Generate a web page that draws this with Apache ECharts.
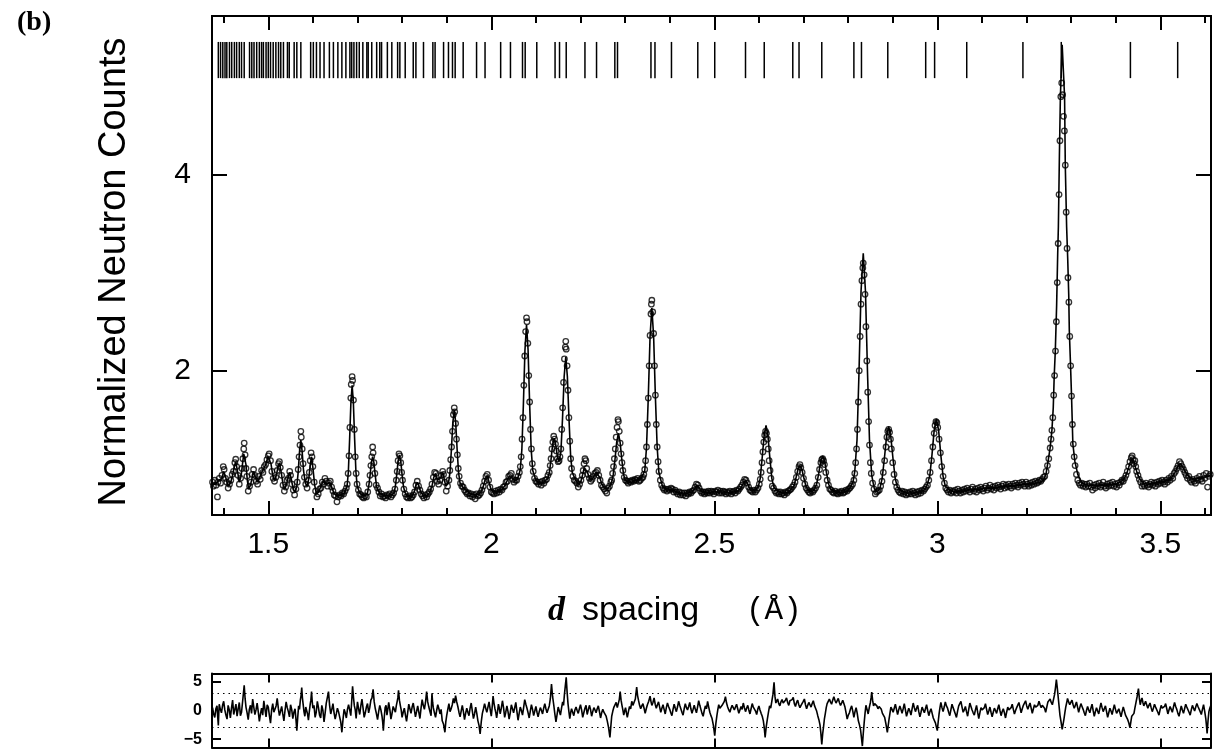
<!DOCTYPE html>
<html>
<head>
<meta charset="utf-8">
<script src="https://cdn.jsdelivr.net/npm/echarts@6/dist/echarts.min.js"></script>
<style>
html,body{margin:0;padding:0;background:#fff;}
#chart{width:1214px;height:750px;}
</style>
</head>
<body>
<div id="chart"></div>
<script>
// ---- axis ranges & ticks ----
const dRange = [1.3738, 3.6137];
const countsRange = [0.525, 5.625];
const diffRange = [-6.45, 6.45];
const majorTicks = [1.5, 2, 2.5, 3, 3.5];
const minorTicks = [1.4,1.5,1.6,1.7,1.8,1.9,2.0,2.1,2.2,2.3,2.4,2.5,2.6,2.7,2.8,2.9,3.0,3.1,3.2,3.3,3.4,3.5,3.6];
const countTicks = [2, 4];
const diffTicks = [-5, 5];
const diffLabels = [-5, 0, 5];
const diffGuides = [-3, 3];
const reflectionSpan = [4.99, 5.36];

// ---- reflection positions (d, Å) ----
const reflections = [1.388,1.393,1.398,1.403,1.407,1.413,1.418,1.424,1.429,1.435,1.440,1.446,1.458,1.463,1.468,1.474,1.480,1.485,1.489,1.495,1.500,1.505,1.511,1.517,1.523,1.528,1.534,1.543,1.547,1.558,1.564,1.573,1.595,1.601,1.608,1.616,1.625,1.637,1.646,1.656,1.665,1.674,1.683,1.687,1.692,1.698,1.704,1.712,1.721,1.724,1.732,1.743,1.750,1.754,1.767,1.777,1.790,1.795,1.807,1.825,1.831,1.848,1.869,1.874,1.893,1.904,1.913,1.919,1.937,1.967,1.986,2.021,2.043,2.070,2.076,2.102,2.143,2.153,2.168,2.210,2.236,2.277,2.283,2.358,2.367,2.404,2.463,2.501,2.570,2.612,2.676,2.690,2.741,2.813,2.830,2.889,2.974,2.994,3.066,3.192,3.278,3.433,3.539];

// ---- calculated profile [d, counts] ----
const calculated = [[1.374,0.84],[1.378,0.85],[1.382,0.84],[1.386,0.85],[1.389,0.88],[1.392,0.87],[1.396,0.90],[1.400,0.97],[1.404,0.92],[1.408,0.85],[1.411,0.82],[1.415,0.85],[1.419,0.91],[1.423,1.00],[1.427,1.07],[1.431,0.97],[1.435,0.86],[1.439,0.92],[1.442,1.04],[1.445,1.15],[1.447,1.17],[1.450,1.04],[1.453,0.88],[1.456,0.79],[1.460,0.83],[1.464,0.91],[1.467,0.97],[1.471,0.91],[1.475,0.86],[1.480,0.90],[1.485,0.96],[1.490,1.00],[1.495,1.05],[1.499,1.12],[1.502,1.14],[1.506,1.05],[1.510,0.93],[1.514,0.88],[1.518,0.93],[1.522,1.02],[1.525,1.06],[1.529,0.96],[1.533,0.84],[1.537,0.79],[1.541,0.84],[1.545,0.92],[1.548,0.96],[1.552,0.88],[1.556,0.79],[1.560,0.76],[1.564,0.82],[1.567,0.96],[1.570,1.17],[1.573,1.29],[1.576,1.17],[1.579,0.98],[1.583,0.85],[1.587,0.82],[1.591,0.90],[1.594,1.04],[1.597,1.12],[1.600,1.01],[1.604,0.83],[1.608,0.74],[1.613,0.76],[1.618,0.82],[1.623,0.87],[1.627,0.89],[1.632,0.84],[1.638,0.86],[1.643,0.80],[1.648,0.74],[1.654,0.72],[1.660,0.72],[1.666,0.74],[1.671,0.75],[1.6767,0.82],[1.6795,0.965],[1.6823,1.29],[1.6852,1.67],[1.688,1.85],[1.6908,1.67],[1.6937,1.29],[1.6965,0.965],[1.6993,0.82],[1.705,0.75],[1.711,0.73],[1.717,0.72],[1.722,0.74],[1.7253,0.82],[1.7282,0.93],[1.7311,1.06],[1.734,1.12],[1.7369,1.06],[1.7398,0.93],[1.7427,0.82],[1.7456,0.78],[1.750,0.75],[1.756,0.73],[1.763,0.72],[1.770,0.73],[1.777,0.73],[1.782,0.75],[1.785,0.82],[1.788,0.935],[1.791,1.075],[1.794,1.14],[1.797,1.075],[1.800,0.935],[1.803,0.82],[1.806,0.76],[1.811,0.72],[1.817,0.71],[1.823,0.72],[1.828,0.77],[1.831,0.83],[1.834,0.86],[1.837,0.83],[1.842,0.76],[1.848,0.72],[1.855,0.72],[1.861,0.75],[1.867,0.82],[1.871,0.91],[1.875,0.95],[1.879,0.88],[1.883,0.86],[1.887,0.91],[1.891,0.96],[1.895,0.88],[1.898,0.82],[1.9042,0.855],[1.9074,0.96],[1.9106,1.195],[1.9138,1.47],[1.917,1.60],[1.9202,1.47],[1.9234,1.195],[1.9266,0.96],[1.9298,0.855],[1.936,0.81],[1.943,0.78],[1.950,0.75],[1.958,0.74],[1.966,0.73],[1.973,0.74],[1.978,0.77],[1.983,0.83],[1.987,0.90],[1.991,0.93],[1.995,0.86],[1.999,0.79],[2.004,0.76],[2.011,0.76],[2.018,0.77],[2.025,0.79],[2.031,0.83],[2.036,0.88],[2.040,0.92],[2.044,0.94],[2.048,0.90],[2.053,0.87],[2.058,0.89],[2.0615,0.93],[2.065,0.99],[2.0685,1.19],[2.072,1.66],[2.0755,2.21],[2.079,2.47],[2.0825,2.21],[2.086,1.66],[2.0895,1.19],[2.093,0.98],[2.100,0.88],[2.107,0.85],[2.114,0.85],[2.120,0.87],[2.1267,0.90],[2.1303,0.96],[2.1338,1.085],[2.1374,1.24],[2.141,1.31],[2.1446,1.24],[2.1482,1.125],[2.152,1.07],[2.1561,1.17],[2.1597,1.51],[2.1634,1.94],[2.167,2.14],[2.1706,1.94],[2.1743,1.50],[2.1779,1.13],[2.1815,0.96],[2.189,0.88],[2.196,0.84],[2.201,0.87],[2.205,0.94],[2.208,1.00],[2.211,1.02],[2.215,0.97],[2.220,0.90],[2.225,0.88],[2.230,0.92],[2.235,0.96],[2.238,0.97],[2.243,0.91],[2.248,0.84],[2.254,0.80],[2.260,0.79],[2.2658,0.82],[2.2697,0.86],[2.2735,0.94],[2.2773,1.09],[2.2812,1.27],[2.285,1.36],[2.2888,1.27],[2.2927,1.09],[2.2965,0.94],[2.3003,0.88],[2.308,0.86],[2.315,0.86],[2.322,0.88],[2.328,0.88],[2.3363,0.90],[2.3442,0.98],[2.3481,1.22],[2.3521,1.74],[2.356,2.35],[2.360,2.64],[2.364,2.35],[2.3679,1.74],[2.3719,1.22],[2.3758,0.96],[2.3837,0.82],[2.392,0.78],[2.398,0.78],[2.404,0.79],[2.411,0.77],[2.420,0.75],[2.430,0.74],[2.440,0.75],[2.450,0.76],[2.456,0.79],[2.461,0.83],[2.466,0.80],[2.472,0.76],[2.482,0.75],[2.495,0.76],[2.508,0.76],[2.520,0.76],[2.532,0.75],[2.544,0.76],[2.553,0.77],[2.560,0.80],[2.565,0.85],[2.570,0.88],[2.575,0.84],[2.581,0.78],[2.590,0.77],[2.5985,0.81],[2.603,0.90],[2.6072,1.10],[2.6116,1.33],[2.616,1.44],[2.6204,1.33],[2.6248,1.10],[2.629,0.90],[2.6335,0.81],[2.642,0.77],[2.652,0.75],[2.660,0.75],[2.667,0.76],[2.674,0.80],[2.6785,0.82],[2.683,0.90],[2.6875,0.99],[2.692,1.03],[2.6965,0.99],[2.701,0.90],[2.7055,0.82],[2.710,0.78],[2.718,0.76],[2.7205,0.76],[2.725,0.79],[2.7295,0.84],[2.734,0.945],[2.7385,1.07],[2.743,1.13],[2.7475,1.07],[2.752,0.945],[2.7565,0.84],[2.761,0.79],[2.770,0.76],[2.780,0.75],[2.790,0.76],[2.798,0.77],[2.8055,0.81],[2.811,0.86],[2.815,0.97],[2.820,1.29],[2.8245,1.99],[2.829,2.81],[2.834,3.20],[2.839,2.81],[2.8435,1.99],[2.848,1.29],[2.853,0.93],[2.8585,0.80],[2.8625,0.77],[2.867,0.77],[2.8716,0.80],[2.8764,0.90],[2.8813,1.10],[2.8861,1.32],[2.891,1.43],[2.8959,1.32],[2.9007,1.10],[2.9056,0.90],[2.9104,0.81],[2.920,0.77],[2.930,0.75],[2.940,0.75],[2.950,0.75],[2.960,0.76],[2.968,0.775],[2.975,0.80],[2.978,0.82],[2.983,0.92],[2.988,1.135],[2.993,1.39],[2.998,1.51],[3.003,1.39],[3.008,1.135],[3.013,0.92],[3.018,0.82],[3.028,0.775],[3.040,0.76],[3.052,0.76],[3.066,0.78],[3.080,0.78],[3.095,0.79],[3.110,0.80],[3.125,0.80],[3.140,0.81],[3.155,0.82],[3.170,0.82],[3.185,0.83],[3.192,0.84],[3.205,0.84],[3.220,0.85],[3.230,0.86],[3.238,0.88],[3.244,0.95],[3.249,1.09],[3.253,1.21],[3.257,1.39],[3.260,1.62],[3.2622,1.95],[3.2646,2.20],[3.2676,2.67],[3.270,3.20],[3.2715,3.47],[3.2738,4.20],[3.276,4.80],[3.280,5.33],[3.2854,4.80],[3.287,4.10],[3.290,3.47],[3.2924,3.15],[3.2947,2.78],[3.296,2.41],[3.2985,2.09],[3.301,1.74],[3.304,1.25],[3.3086,1.07],[3.315,0.94],[3.322,0.87],[3.330,0.84],[3.340,0.83],[3.352,0.83],[3.365,0.83],[3.378,0.83],[3.390,0.84],[3.400,0.84],[3.410,0.86],[3.418,0.89],[3.424,0.94],[3.429,1.01],[3.433,1.07],[3.437,1.10],[3.441,1.07],[3.445,1.00],[3.450,0.93],[3.456,0.88],[3.463,0.85],[3.472,0.84],[3.485,0.85],[3.497,0.86],[3.508,0.87],[3.518,0.88],[3.526,0.91],[3.533,0.96],[3.539,1.02],[3.545,1.05],[3.551,1.01],[3.558,0.95],[3.566,0.91],[3.576,0.89],[3.586,0.90],[3.596,0.91],[3.606,0.92],[3.615,0.93]];

// ---- observed counts [d, counts] ----
const observed = [[1.375,0.86],[1.377,0.82],[1.380,0.88],[1.383,0.83],[1.386,0.71],[1.387,0.86],[1.390,0.90],[1.393,0.85],[1.396,0.93],[1.399,1.02],[1.401,0.99],[1.404,0.90],[1.407,0.86],[1.410,0.80],[1.413,0.84],[1.416,0.88],[1.419,0.94],[1.422,0.97],[1.425,1.06],[1.427,1.095],[1.429,1.02],[1.432,0.93],[1.435,0.84],[1.438,0.90],[1.441,1.00],[1.443,1.10],[1.445,1.20],[1.446,1.26],[1.448,1.14],[1.450,1.00],[1.452,0.92],[1.455,0.77],[1.458,0.82],[1.461,0.86],[1.464,0.94],[1.467,0.99],[1.470,0.93],[1.473,0.87],[1.476,0.84],[1.479,0.92],[1.482,0.89],[1.485,0.98],[1.488,0.96],[1.491,1.02],[1.494,1.04],[1.497,1.09],[1.500,1.13],[1.502,1.15],[1.505,1.08],[1.508,0.97],[1.511,0.90],[1.514,0.87],[1.517,0.91],[1.520,0.98],[1.523,1.05],[1.525,1.07],[1.527,1.01],[1.530,0.93],[1.533,0.83],[1.536,0.77],[1.539,0.81],[1.542,0.88],[1.545,0.90],[1.548,0.97],[1.550,0.93],[1.553,0.84],[1.556,0.78],[1.559,0.73],[1.562,0.79],[1.565,0.86],[1.567,0.99],[1.569,1.12],[1.571,1.24],[1.573,1.38],[1.574,1.32],[1.576,1.20],[1.578,1.05],[1.581,0.91],[1.584,0.84],[1.587,0.80],[1.590,0.88],[1.592,0.96],[1.594,1.08],[1.596,1.16],[1.598,1.12],[1.600,1.02],[1.603,0.86],[1.606,0.77],[1.609,0.71],[1.612,0.74],[1.615,0.79],[1.618,0.80],[1.621,0.86],[1.624,0.84],[1.627,0.90],[1.630,0.87],[1.633,0.82],[1.636,0.85],[1.639,0.87],[1.642,0.81],[1.645,0.77],[1.648,0.73],[1.651,0.72],[1.654,0.66],[1.657,0.71],[1.660,0.73],[1.663,0.72],[1.666,0.75],[1.669,0.74],[1.672,0.77],[1.675,0.80],[1.677,0.84],[1.679,0.95],[1.681,1.13],[1.683,1.42],[1.685,1.72],[1.686,1.86],[1.688,1.94],[1.689,1.90],[1.691,1.70],[1.693,1.40],[1.695,1.12],[1.697,0.95],[1.699,0.84],[1.702,0.78],[1.705,0.74],[1.708,0.73],[1.711,0.71],[1.714,0.70],[1.717,0.72],[1.720,0.71],[1.723,0.76],[1.726,0.84],[1.728,0.93],[1.730,1.03],[1.732,1.12],[1.734,1.22],[1.735,1.16],[1.737,1.06],[1.739,0.95],[1.742,0.83],[1.745,0.80],[1.748,0.76],[1.751,0.72],[1.754,0.74],[1.757,0.71],[1.760,0.72],[1.763,0.70],[1.766,0.73],[1.769,0.72],[1.772,0.74],[1.775,0.71],[1.778,0.73],[1.781,0.75],[1.784,0.79],[1.787,0.88],[1.789,0.97],[1.791,1.08],[1.793,1.15],[1.795,1.13],[1.797,1.06],[1.799,0.96],[1.801,0.88],[1.804,0.79],[1.807,0.74],[1.810,0.71],[1.813,0.70],[1.816,0.72],[1.819,0.70],[1.822,0.71],[1.825,0.73],[1.828,0.76],[1.831,0.83],[1.834,0.87],[1.837,0.82],[1.840,0.78],[1.843,0.74],[1.846,0.72],[1.849,0.70],[1.852,0.73],[1.855,0.71],[1.858,0.74],[1.861,0.76],[1.864,0.79],[1.867,0.84],[1.870,0.91],[1.873,0.96],[1.876,0.95],[1.879,0.87],[1.882,0.84],[1.885,0.88],[1.888,0.93],[1.891,0.97],[1.893,0.94],[1.896,0.86],[1.899,0.77],[1.902,0.82],[1.905,0.88],[1.907,0.98],[1.909,1.09],[1.911,1.22],[1.913,1.38],[1.915,1.55],[1.917,1.62],[1.918,1.58],[1.920,1.46],[1.922,1.30],[1.924,1.14],[1.926,1.00],[1.928,0.92],[1.931,0.85],[1.934,0.82],[1.937,0.81],[1.940,0.78],[1.943,0.76],[1.946,0.74],[1.949,0.75],[1.952,0.72],[1.955,0.74],[1.958,0.71],[1.961,0.73],[1.964,0.69],[1.967,0.74],[1.970,0.72],[1.973,0.73],[1.976,0.75],[1.979,0.78],[1.982,0.82],[1.985,0.87],[1.988,0.92],[1.991,0.94],[1.994,0.88],[1.997,0.81],[2.000,0.76],[2.003,0.75],[2.006,0.74],[2.009,0.77],[2.012,0.75],[2.015,0.78],[2.018,0.76],[2.021,0.79],[2.024,0.78],[2.027,0.81],[2.030,0.82],[2.033,0.86],[2.036,0.87],[2.039,0.92],[2.042,0.93],[2.045,0.95],[2.048,0.89],[2.051,0.86],[2.054,0.88],[2.057,0.88],[2.060,0.92],[2.063,0.96],[2.065,1.02],[2.067,1.12],[2.069,1.30],[2.071,1.52],[2.073,1.85],[2.075,2.15],[2.077,2.40],[2.079,2.54],[2.080,2.50],[2.082,2.28],[2.084,1.95],[2.086,1.68],[2.088,1.40],[2.090,1.20],[2.092,1.05],[2.094,0.97],[2.097,0.90],[2.100,0.87],[2.103,0.86],[2.106,0.84],[2.109,0.86],[2.112,0.83],[2.115,0.87],[2.118,0.85],[2.121,0.88],[2.124,0.89],[2.127,0.93],[2.130,0.96],[2.132,1.03],[2.134,1.10],[2.136,1.20],[2.138,1.27],[2.140,1.33],[2.142,1.30],[2.144,1.25],[2.146,1.18],[2.148,1.10],[2.150,1.07],[2.152,1.08],[2.154,1.12],[2.156,1.20],[2.158,1.40],[2.160,1.62],[2.162,1.88],[2.164,2.12],[2.166,2.24],[2.167,2.30],[2.168,2.22],[2.170,2.05],[2.172,1.80],[2.174,1.52],[2.176,1.28],[2.178,1.10],[2.180,1.00],[2.183,0.92],[2.186,0.88],[2.189,0.87],[2.192,0.85],[2.195,0.81],[2.198,0.84],[2.201,0.88],[2.204,0.93],[2.206,0.98],[2.208,1.05],[2.210,1.10],[2.212,1.08],[2.214,1.00],[2.217,0.94],[2.220,0.90],[2.223,0.87],[2.226,0.89],[2.229,0.92],[2.232,0.95],[2.235,0.96],[2.238,0.98],[2.241,0.93],[2.244,0.88],[2.247,0.83],[2.250,0.81],[2.253,0.79],[2.256,0.77],[2.259,0.75],[2.262,0.80],[2.265,0.82],[2.268,0.86],[2.270,0.88],[2.272,0.95],[2.274,1.02],[2.276,1.10],[2.278,1.20],[2.280,1.32],[2.282,1.42],[2.284,1.50],[2.285,1.48],[2.287,1.38],[2.289,1.26],[2.291,1.15],[2.293,1.06],[2.295,0.98],[2.298,0.91],[2.301,0.88],[2.304,0.87],[2.307,0.85],[2.310,0.87],[2.313,0.86],[2.316,0.88],[2.319,0.87],[2.322,0.89],[2.325,0.88],[2.328,0.90],[2.331,0.87],[2.334,0.88],[2.337,0.90],[2.340,0.91],[2.342,0.94],[2.344,0.99],[2.346,1.08],[2.348,1.22],[2.350,1.45],[2.352,1.72],[2.354,2.05],[2.356,2.36],[2.358,2.58],[2.359,2.68],[2.360,2.72],[2.362,2.60],[2.364,2.38],[2.366,2.05],[2.368,1.75],[2.370,1.45],[2.372,1.22],[2.374,1.07],[2.376,0.97],[2.379,0.88],[2.382,0.83],[2.385,0.80],[2.388,0.78],[2.391,0.79],[2.394,0.77],[2.397,0.79],[2.400,0.78],[2.403,0.80],[2.406,0.79],[2.409,0.76],[2.412,0.78],[2.415,0.76],[2.418,0.74],[2.421,0.76],[2.424,0.73],[2.427,0.75],[2.430,0.73],[2.433,0.75],[2.436,0.72],[2.439,0.75],[2.442,0.74],[2.445,0.76],[2.448,0.75],[2.451,0.77],[2.454,0.78],[2.457,0.81],[2.460,0.84],[2.463,0.83],[2.466,0.80],[2.469,0.77],[2.472,0.75],[2.475,0.76],[2.478,0.74],[2.481,0.76],[2.484,0.75],[2.487,0.77],[2.490,0.75],[2.493,0.77],[2.496,0.76],[2.499,0.74],[2.502,0.77],[2.505,0.76],[2.508,0.78],[2.511,0.75],[2.514,0.77],[2.517,0.75],[2.520,0.77],[2.523,0.76],[2.526,0.74],[2.529,0.76],[2.532,0.75],[2.535,0.77],[2.538,0.74],[2.541,0.76],[2.544,0.77],[2.547,0.75],[2.550,0.78],[2.553,0.77],[2.556,0.79],[2.559,0.81],[2.562,0.83],[2.565,0.86],[2.568,0.89],[2.571,0.88],[2.574,0.85],[2.577,0.81],[2.580,0.78],[2.583,0.77],[2.586,0.76],[2.589,0.78],[2.592,0.76],[2.595,0.78],[2.598,0.80],[2.601,0.84],[2.603,0.89],[2.605,0.96],[2.607,1.06],[2.609,1.17],[2.611,1.27],[2.613,1.34],[2.615,1.38],[2.617,1.36],[2.619,1.30],[2.621,1.20],[2.623,1.08],[2.625,0.98],[2.627,0.90],[2.630,0.82],[2.633,0.80],[2.636,0.77],[2.639,0.75],[2.642,0.76],[2.645,0.74],[2.648,0.76],[2.651,0.74],[2.654,0.75],[2.657,0.73],[2.660,0.76],[2.663,0.75],[2.666,0.77],[2.669,0.78],[2.672,0.79],[2.675,0.81],[2.678,0.83],[2.681,0.86],[2.684,0.91],[2.687,0.97],[2.690,1.02],[2.692,1.04],[2.694,1.01],[2.697,0.96],[2.700,0.90],[2.703,0.84],[2.706,0.80],[2.709,0.78],[2.712,0.76],[2.715,0.75],[2.718,0.77],[2.721,0.76],[2.724,0.78],[2.727,0.80],[2.730,0.83],[2.733,0.91],[2.736,0.99],[2.739,1.06],[2.741,1.09],[2.743,1.10],[2.745,1.08],[2.747,1.04],[2.750,0.96],[2.753,0.88],[2.756,0.83],[2.759,0.79],[2.762,0.78],[2.765,0.76],[2.768,0.75],[2.771,0.77],[2.774,0.75],[2.777,0.74],[2.780,0.76],[2.783,0.75],[2.786,0.77],[2.789,0.75],[2.792,0.76],[2.795,0.78],[2.798,0.77],[2.801,0.79],[2.804,0.80],[2.807,0.82],[2.810,0.84],[2.813,0.88],[2.815,0.95],[2.817,1.06],[2.819,1.20],[2.821,1.40],[2.823,1.68],[2.825,2.00],[2.827,2.35],[2.829,2.68],[2.831,2.92],[2.833,3.05],[2.834,3.10],[2.836,2.98],[2.838,2.78],[2.840,2.45],[2.842,2.10],[2.844,1.78],[2.846,1.48],[2.848,1.24],[2.850,1.06],[2.852,0.95],[2.855,0.85],[2.858,0.79],[2.861,0.74],[2.864,0.76],[2.867,0.77],[2.870,0.78],[2.873,0.82],[2.876,0.87],[2.879,0.96],[2.882,1.08],[2.885,1.22],[2.887,1.32],[2.889,1.38],[2.891,1.40],[2.893,1.37],[2.895,1.30],[2.897,1.20],[2.900,1.06],[2.903,0.94],[2.906,0.86],[2.909,0.81],[2.912,0.78],[2.915,0.76],[2.918,0.75],[2.921,0.77],[2.924,0.74],[2.927,0.76],[2.930,0.73],[2.933,0.75],[2.936,0.74],[2.939,0.76],[2.942,0.74],[2.945,0.77],[2.948,0.75],[2.951,0.73],[2.954,0.76],[2.957,0.74],[2.960,0.77],[2.963,0.75],[2.966,0.78],[2.969,0.77],[2.972,0.79],[2.975,0.81],[2.978,0.83],[2.981,0.88],[2.984,0.96],[2.987,1.08],[2.990,1.22],[2.993,1.36],[2.995,1.44],[2.997,1.48],[2.999,1.47],[3.001,1.42],[3.004,1.30],[3.007,1.16],[3.010,1.02],[3.013,0.92],[3.016,0.85],[3.019,0.80],[3.022,0.78],[3.025,0.76],[3.028,0.78],[3.031,0.75],[3.034,0.77],[3.037,0.76],[3.040,0.78],[3.043,0.75],[3.046,0.79],[3.049,0.77],[3.052,0.75],[3.055,0.78],[3.058,0.76],[3.061,0.79],[3.064,0.77],[3.067,0.80],[3.070,0.78],[3.073,0.76],[3.076,0.79],[3.079,0.81],[3.082,0.77],[3.085,0.79],[3.088,0.76],[3.091,0.80],[3.094,0.78],[3.097,0.81],[3.100,0.79],[3.103,0.77],[3.106,0.80],[3.109,0.82],[3.112,0.78],[3.115,0.80],[3.118,0.83],[3.121,0.79],[3.124,0.81],[3.127,0.78],[3.130,0.82],[3.133,0.80],[3.136,0.83],[3.139,0.81],[3.142,0.79],[3.145,0.82],[3.148,0.84],[3.151,0.80],[3.154,0.83],[3.157,0.81],[3.160,0.84],[3.163,0.82],[3.166,0.80],[3.169,0.84],[3.172,0.82],[3.175,0.85],[3.178,0.83],[3.181,0.81],[3.184,0.85],[3.187,0.83],[3.190,0.86],[3.193,0.84],[3.196,0.82],[3.199,0.86],[3.202,0.84],[3.205,0.82],[3.208,0.85],[3.211,0.83],[3.214,0.86],[3.217,0.84],[3.220,0.87],[3.223,0.85],[3.226,0.86],[3.229,0.88],[3.232,0.87],[3.235,0.89],[3.238,0.91],[3.241,0.92],[3.244,0.97],[3.247,1.03],[3.250,1.10],[3.253,1.21],[3.255,1.30],[3.257,1.39],[3.259,1.52],[3.261,1.75],[3.263,1.95],[3.265,2.20],[3.267,2.50],[3.269,2.90],[3.271,3.30],[3.273,3.80],[3.275,4.35],[3.277,4.80],[3.279,4.94],[3.281,4.82],[3.283,4.60],[3.285,4.45],[3.287,4.10],[3.289,3.62],[3.291,3.25],[3.293,2.95],[3.295,2.70],[3.297,2.35],[3.299,2.05],[3.301,1.74],[3.303,1.45],[3.305,1.25],[3.307,1.12],[3.309,1.03],[3.312,0.94],[3.315,0.88],[3.318,0.85],[3.321,0.83],[3.324,0.85],[3.327,0.82],[3.330,0.84],[3.333,0.81],[3.336,0.84],[3.339,0.82],[3.342,0.85],[3.345,0.81],[3.348,0.78],[3.351,0.83],[3.354,0.80],[3.357,0.84],[3.360,0.82],[3.363,0.85],[3.366,0.81],[3.369,0.83],[3.372,0.86],[3.375,0.82],[3.378,0.80],[3.381,0.84],[3.384,0.82],[3.387,0.85],[3.390,0.83],[3.393,0.86],[3.396,0.82],[3.399,0.84],[3.402,0.81],[3.405,0.85],[3.408,0.83],[3.411,0.86],[3.414,0.88],[3.417,0.87],[3.420,0.90],[3.423,0.93],[3.426,0.97],[3.429,1.02],[3.432,1.07],[3.435,1.11],[3.437,1.13],[3.439,1.09],[3.441,1.05],[3.443,1.08],[3.445,1.02],[3.447,0.97],[3.450,0.93],[3.453,0.89],[3.456,0.86],[3.459,0.82],[3.462,0.84],[3.465,0.82],[3.468,0.85],[3.471,0.83],[3.474,0.81],[3.477,0.84],[3.480,0.86],[3.483,0.83],[3.486,0.85],[3.489,0.82],[3.492,0.86],[3.495,0.84],[3.498,0.87],[3.501,0.85],[3.504,0.88],[3.507,0.86],[3.510,0.84],[3.513,0.88],[3.516,0.86],[3.519,0.90],[3.522,0.88],[3.525,0.92],[3.528,0.90],[3.531,0.95],[3.534,0.97],[3.537,1.00],[3.540,1.03],[3.543,1.07],[3.546,1.05],[3.549,1.02],[3.552,0.99],[3.555,0.96],[3.558,0.93],[3.561,0.90],[3.564,0.92],[3.567,0.88],[3.570,0.86],[3.573,0.89],[3.576,0.87],[3.579,0.85],[3.582,0.90],[3.585,0.88],[3.588,0.92],[3.591,0.89],[3.594,0.87],[3.597,0.93],[3.600,0.90],[3.603,0.95],[3.606,0.81],[3.609,0.92],[3.612,0.94],[3.614,0.96]];

// ---- normalized difference (obs - calc)/sigma [d, value] ----
const difference = [[1.375,0.5],[1.3775,-0.6],[1.380,-1.2],[1.3825,0.3],[1.385,0.8],[1.3865,-1.0],[1.388,-2.6],[1.389,-0.5],[1.390,1.1],[1.3925,0.2],[1.395,-0.4],[1.3975,0.9],[1.400,1.6],[1.4025,0.1],[1.405,-0.8],[1.4075,-1.5],[1.410,0.9],[1.4125,0.1],[1.415,-1.3],[1.4175,0.4],[1.420,1.8],[1.4225,-0.7],[1.425,0.2],[1.4275,1.1],[1.430,-1.0],[1.4325,0.3],[1.435,1.4],[1.4375,-0.9],[1.440,-0.3],[1.443,2.0],[1.446,4.4],[1.448,2.1],[1.450,0.6],[1.4525,-0.4],[1.455,-1.6],[1.4575,0.2],[1.460,0.9],[1.4625,-0.5],[1.465,2.0],[1.4675,0.6],[1.470,-0.7],[1.4725,0.1],[1.475,1.3],[1.4775,-0.2],[1.480,-1.9],[1.4825,-0.6],[1.485,0.4],[1.4875,-0.8],[1.490,1.7],[1.4925,0.3],[1.495,-1.1],[1.4975,1.0],[1.500,0.6],[1.5025,-0.9],[1.505,-2.2],[1.5075,0.1],[1.510,1.2],[1.5125,-0.3],[1.515,-0.5],[1.5175,0.8],[1.520,2.1],[1.5225,0.4],[1.525,-0.9],[1.5275,-0.1],[1.530,0.7],[1.5325,-0.6],[1.535,-1.8],[1.5375,0.0],[1.540,1.5],[1.5425,0.5],[1.545,-0.2],[1.5475,-1.1],[1.550,1.0],[1.5525,0.2],[1.555,-1.4],[1.5575,-0.3],[1.560,0.3],[1.562,-1.5],[1.564,-3.5],[1.566,-1.2],[1.568,0.8],[1.570,0.2],[1.572,1.9],[1.5735,2.6],[1.575,4.0],[1.5765,2.2],[1.578,1.2],[1.580,-0.2],[1.582,-1.0],[1.584,0.6],[1.586,0.5],[1.588,-0.6],[1.590,-1.7],[1.592,-0.2],[1.594,1.1],[1.5955,1.8],[1.597,3.3],[1.5985,1.6],[1.600,0.4],[1.6025,0.9],[1.605,-1.2],[1.6075,-0.3],[1.610,1.6],[1.6125,0.5],[1.615,-0.8],[1.6175,-1.3],[1.620,0.9],[1.6225,0.0],[1.625,-2.0],[1.6275,-0.4],[1.630,1.3],[1.6325,1.6],[1.635,3.3],[1.6375,0.9],[1.640,-0.6],[1.6425,0.2],[1.645,1.2],[1.6475,-0.4],[1.650,-1.5],[1.6525,-0.6],[1.655,0.4],[1.6575,-0.2],[1.660,-1.1],[1.6625,-2.0],[1.665,-3.8],[1.6675,-1.6],[1.670,0.2],[1.6725,-0.4],[1.675,-1.3],[1.6775,0.2],[1.680,1.0],[1.6825,0.1],[1.685,-0.9],[1.687,1.6],[1.689,4.2],[1.691,2.3],[1.693,0.8],[1.695,0.1],[1.697,-1.4],[1.6985,0.2],[1.700,1.5],[1.7025,0.3],[1.705,-0.7],[1.7075,0.8],[1.710,2.0],[1.7125,0.4],[1.715,-1.2],[1.7175,-0.4],[1.720,0.6],[1.7225,1.2],[1.725,-0.4],[1.7275,0.5],[1.730,1.8],[1.7325,2.2],[1.735,3.7],[1.7375,1.5],[1.740,0.3],[1.7425,-0.6],[1.745,-1.6],[1.7475,-0.2],[1.750,0.9],[1.7525,0.1],[1.755,-1.0],[1.7565,-2.0],[1.758,-3.5],[1.760,-1.2],[1.762,0.5],[1.764,0.9],[1.766,-0.8],[1.768,0.2],[1.770,1.4],[1.7725,0.2],[1.775,-1.5],[1.7775,-0.5],[1.780,0.7],[1.7825,0.2],[1.785,-0.3],[1.787,0.8],[1.789,1.6],[1.7905,2.2],[1.792,3.5],[1.794,1.8],[1.796,0.9],[1.798,0.1],[1.800,-1.2],[1.8025,-0.3],[1.805,0.4],[1.8075,-0.8],[1.810,-1.9],[1.8125,-0.4],[1.815,1.1],[1.8175,0.3],[1.820,-0.5],[1.8225,0.6],[1.825,1.3],[1.8275,0.1],[1.830,-1.1],[1.8325,-0.2],[1.835,0.8],[1.8375,-0.3],[1.840,-1.4],[1.8425,0.4],[1.845,1.9],[1.8475,0.9],[1.850,0.2],[1.8525,1.4],[1.855,3.3],[1.8575,1.5],[1.860,0.6],[1.8625,-0.2],[1.865,-0.9],[1.866,1.2],[1.867,3.0],[1.8685,1.4],[1.870,0.5],[1.8725,-0.4],[1.875,-1.2],[1.8775,0.0],[1.880,1.0],[1.8825,0.3],[1.885,-0.6],[1.8875,0.2],[1.890,-1.8],[1.893,-2.4],[1.896,-3.8],[1.898,-2.0],[1.900,-0.9],[1.9025,0.2],[1.905,1.2],[1.9075,-0.2],[1.910,0.3],[1.9125,1.0],[1.915,2.1],[1.9175,1.3],[1.920,2.6],[1.9225,1.5],[1.925,0.7],[1.9275,-0.3],[1.930,-1.1],[1.9325,-0.1],[1.935,0.9],[1.9375,-0.2],[1.940,-1.6],[1.9425,-0.5],[1.945,0.4],[1.9475,-0.3],[1.950,-0.9],[1.9525,0.4],[1.955,1.3],[1.9575,-0.1],[1.960,-1.4],[1.9625,-0.6],[1.965,0.6],[1.9675,-0.5],[1.970,-1.8],[1.9725,-2.6],[1.975,-4.1],[1.9775,-2.0],[1.980,-0.5],[1.9825,0.3],[1.985,1.2],[1.9875,0.4],[1.990,-0.3],[1.9925,0.6],[1.995,1.5],[1.9975,0.2],[2.000,-1.0],[2.002,0.6],[2.004,2.5],[2.006,1.3],[2.008,0.4],[2.010,-0.3],[2.012,-1.3],[2.014,-0.2],[2.016,1.1],[2.018,0.4],[2.020,-0.6],[2.0225,0.4],[2.025,1.7],[2.0275,0.5],[2.030,-1.2],[2.0325,-0.3],[2.035,0.8],[2.0375,-0.2],[2.040,-1.5],[2.0425,-0.4],[2.045,1.0],[2.0475,0.3],[2.050,-0.4],[2.0525,0.5],[2.055,1.4],[2.0575,-0.2],[2.060,-1.7],[2.0625,-0.5],[2.065,0.6],[2.0675,0.0],[2.070,-0.8],[2.0725,0.5],[2.075,1.9],[2.0775,1.1],[2.080,0.4],[2.0825,-0.4],[2.085,-1.3],[2.0875,-0.1],[2.090,1.0],[2.0925,0.2],[2.095,-0.9],[2.0975,-0.1],[2.100,0.7],[2.1025,-0.3],[2.105,-1.1],[2.1075,-0.2],[2.110,0.5],[2.1125,0.0],[2.115,-0.6],[2.1175,0.4],[2.120,1.2],[2.1225,0.3],[2.125,-0.4],[2.1275,0.2],[2.130,0.8],[2.1325,2.1],[2.135,4.6],[2.1375,2.4],[2.140,1.0],[2.1425,-0.6],[2.145,-2.0],[2.1475,-0.7],[2.150,0.6],[2.1525,-0.1],[2.155,-0.8],[2.1575,0.4],[2.160,1.5],[2.162,0.9],[2.164,2.8],[2.166,4.3],[2.168,5.8],[2.170,3.2],[2.172,1.2],[2.174,-0.2],[2.176,-1.4],[2.178,-0.4],[2.180,0.3],[2.1825,-0.3],[2.185,-0.9],[2.1875,0.1],[2.190,0.6],[2.1925,0.0],[2.195,-0.5],[2.1975,0.3],[2.200,1.0],[2.2025,0.1],[2.205,-1.2],[2.2075,-0.4],[2.210,0.4],[2.2125,0.9],[2.215,-0.7],[2.2175,0.1],[2.220,0.9],[2.2225,0.2],[2.225,-1.0],[2.2275,-0.2],[2.230,0.5],[2.2325,0.1],[2.235,-0.4],[2.2375,0.3],[2.240,0.8],[2.2425,-0.2],[2.245,-1.3],[2.2475,-0.4],[2.250,0.2],[2.2525,-0.3],[2.255,-0.6],[2.2575,-1.0],[2.260,-1.8],[2.263,-3.0],[2.266,-4.7],[2.268,-2.8],[2.270,-1.0],[2.2725,-0.1],[2.275,0.6],[2.2775,0.3],[2.280,1.4],[2.2825,0.5],[2.285,0.8],[2.287,1.9],[2.289,3.3],[2.291,1.8],[2.293,0.9],[2.295,0.1],[2.297,-0.8],[2.299,-0.1],[2.301,0.5],[2.303,-0.4],[2.305,-1.2],[2.3075,-0.2],[2.310,0.7],[2.3125,0.3],[2.315,1.6],[2.3175,0.9],[2.320,0.6],[2.323,2.0],[2.326,4.1],[2.328,2.6],[2.330,1.8],[2.3325,0.9],[2.335,0.3],[2.3375,0.8],[2.340,1.2],[2.3425,0.4],[2.345,-0.5],[2.3475,0.3],[2.350,1.0],[2.353,1.6],[2.356,2.5],[2.358,1.6],[2.360,0.9],[2.3625,1.4],[2.365,2.2],[2.3675,1.1],[2.370,0.4],[2.3725,1.0],[2.375,1.5],[2.3775,0.6],[2.380,-0.3],[2.3825,0.4],[2.385,1.0],[2.3875,0.2],[2.390,-0.6],[2.3925,0.5],[2.395,1.3],[2.3975,0.7],[2.400,0.2],[2.4025,-0.4],[2.405,-0.9],[2.4075,0.2],[2.410,1.1],[2.4125,0.4],[2.415,-0.2],[2.4175,0.6],[2.420,1.6],[2.4225,0.9],[2.425,0.3],[2.4275,-0.3],[2.430,-0.8],[2.4325,0.3],[2.435,1.2],[2.4375,0.5],[2.440,0.1],[2.4425,0.7],[2.445,1.4],[2.4475,0.3],[2.450,-0.5],[2.4525,0.2],[2.455,0.9],[2.4575,0.2],[2.460,-0.4],[2.4625,0.6],[2.465,1.7],[2.4675,0.9],[2.470,0.2],[2.4725,-0.5],[2.475,-1.0],[2.4775,0.0],[2.480,0.8],[2.4825,0.3],[2.485,1.6],[2.4875,0.6],[2.490,-0.3],[2.4925,-0.9],[2.495,-1.4],[2.498,-2.6],[2.501,-4.4],[2.5035,-2.3],[2.506,-0.8],[2.508,0.2],[2.510,1.0],[2.5125,0.4],[2.515,0.3],[2.5175,0.9],[2.520,1.2],[2.5225,1.6],[2.525,2.4],[2.5275,1.3],[2.530,0.6],[2.5325,0.1],[2.535,-0.3],[2.5375,0.4],[2.540,0.9],[2.5425,0.5],[2.545,0.1],[2.5475,0.6],[2.550,1.1],[2.5525,0.3],[2.555,-0.5],[2.5575,0.1],[2.560,0.7],[2.5625,0.2],[2.565,1.3],[2.5675,0.5],[2.570,-0.2],[2.5725,0.4],[2.575,0.9],[2.5775,0.1],[2.580,-0.6],[2.5825,0.3],[2.585,1.2],[2.5875,0.6],[2.590,0.4],[2.5925,-0.1],[2.595,-0.7],[2.5975,0.2],[2.600,0.8],[2.6025,0.1],[2.605,-0.5],[2.6075,-1.0],[2.610,-1.8],[2.612,-3.0],[2.614,-4.7],[2.6165,-2.8],[2.619,-1.5],[2.6215,-0.3],[2.624,0.8],[2.6265,0.4],[2.629,1.6],[2.6315,2.8],[2.634,4.9],[2.636,2.5],[2.638,1.3],[2.640,1.6],[2.642,2.0],[2.6445,1.2],[2.647,0.8],[2.6495,1.5],[2.652,1.9],[2.6545,1.3],[2.657,1.1],[2.6595,1.8],[2.662,2.2],[2.6645,1.4],[2.667,0.9],[2.6695,1.7],[2.672,1.5],[2.6745,1.9],[2.677,2.3],[2.6795,1.2],[2.682,0.7],[2.6845,1.4],[2.687,1.8],[2.6895,1.0],[2.692,0.5],[2.6945,0.9],[2.697,1.2],[2.6995,1.6],[2.702,2.0],[2.7045,1.0],[2.707,0.3],[2.7095,0.9],[2.712,1.4],[2.7145,1.0],[2.717,0.6],[2.7195,1.2],[2.722,1.7],[2.7245,0.9],[2.727,0.4],[2.7295,-0.1],[2.732,-0.9],[2.7345,-1.6],[2.737,-2.5],[2.739,-4.0],[2.741,-5.9],[2.743,-4.1],[2.745,-2.8],[2.747,-1.4],[2.749,-0.5],[2.751,0.5],[2.753,1.2],[2.7555,1.6],[2.758,2.0],[2.7605,1.5],[2.763,1.1],[2.7655,1.8],[2.768,2.4],[2.7705,1.8],[2.773,1.3],[2.7755,1.6],[2.778,2.1],[2.7805,1.4],[2.783,0.9],[2.7855,1.3],[2.788,1.8],[2.7905,1.2],[2.793,0.6],[2.7955,-0.4],[2.798,-1.5],[2.8005,-0.8],[2.803,-0.4],[2.8055,0.3],[2.808,0.8],[2.8105,-0.1],[2.813,-1.2],[2.8155,-0.2],[2.818,0.5],[2.8205,-0.5],[2.823,-1.8],[2.8255,-2.5],[2.828,-3.4],[2.830,-4.8],[2.832,-6.2],[2.834,-4.0],[2.836,-2.2],[2.838,-0.5],[2.840,0.9],[2.8425,0.2],[2.845,-0.6],[2.8475,0.5],[2.850,1.4],[2.8515,2.2],[2.853,3.2],[2.855,1.8],[2.857,0.8],[2.8595,1.2],[2.862,1.5],[2.8645,0.8],[2.867,0.3],[2.8695,0.7],[2.872,1.0],[2.8745,0.2],[2.877,-0.5],[2.8795,-0.8],[2.882,-1.2],[2.885,-2.4],[2.888,-3.8],[2.890,-2.6],[2.892,-1.4],[2.894,-0.4],[2.896,0.6],[2.8985,0.2],[2.901,-0.3],[2.9035,0.4],[2.906,1.1],[2.9085,0.2],[2.911,-0.7],[2.9135,0.1],[2.916,0.8],[2.9185,0.2],[2.921,-0.5],[2.9235,0.3],[2.926,1.2],[2.9285,0.1],[2.931,-1.0],[2.9335,-0.3],[2.936,0.4],[2.9385,-0.1],[2.941,-0.8],[2.9435,0.3],[2.946,1.3],[2.9485,0.5],[2.951,-0.2],[2.9535,0.4],[2.956,0.9],[2.9585,-0.2],[2.961,-1.1],[2.9635,-0.3],[2.966,0.6],[2.9685,0.1],[2.971,-0.4],[2.9735,0.3],[2.976,1.0],[2.9785,0.0],[2.981,-0.9],[2.9835,-0.2],[2.986,0.3],[2.9885,-0.5],[2.991,-1.3],[2.9935,-1.6],[2.996,-2.2],[2.998,-2.9],[3.000,-3.5],[3.002,-2.0],[3.004,-0.6],[3.006,0.5],[3.008,1.4],[3.0105,0.5],[3.013,-0.2],[3.0155,0.6],[3.018,1.5],[3.0205,0.8],[3.023,0.4],[3.0255,-0.3],[3.028,-0.9],[3.0305,0.1],[3.033,1.1],[3.0355,0.5],[3.038,0.2],[3.0405,-0.6],[3.043,-1.2],[3.0455,-0.1],[3.048,0.8],[3.0505,1.0],[3.053,1.6],[3.0555,0.6],[3.058,-0.3],[3.0605,0.1],[3.063,0.7],[3.0655,-0.2],[3.068,-1.0],[3.0705,0.2],[3.073,1.3],[3.0755,0.7],[3.078,0.1],[3.0805,-0.4],[3.083,-0.8],[3.0855,0.1],[3.088,0.9],[3.0905,-0.3],[3.093,-1.4],[3.0955,-0.4],[3.098,0.5],[3.1005,0.1],[3.103,-0.2],[3.1055,0.5],[3.108,1.2],[3.1105,0.2],[3.113,-0.7],[3.1155,-0.1],[3.118,0.6],[3.1205,-0.3],[3.123,-1.1],[3.1255,-0.3],[3.128,0.4],[3.1305,0.0],[3.133,-0.5],[3.1355,0.3],[3.138,1.0],[3.1405,0.0],[3.143,-0.9],[3.1455,-0.2],[3.148,0.3],[3.1505,-0.4],[3.153,-1.3],[3.1555,-0.3],[3.158,0.6],[3.1605,0.1],[3.163,-0.2],[3.1655,0.5],[3.168,1.1],[3.1705,0.2],[3.173,-0.6],[3.1755,0.0],[3.178,0.5],[3.1805,0.8],[3.183,1.4],[3.1855,0.5],[3.188,-0.4],[3.1905,0.3],[3.193,0.9],[3.1955,1.2],[3.198,1.7],[3.2005,0.8],[3.203,0.2],[3.2055,0.8],[3.208,1.3],[3.2105,0.4],[3.213,-0.5],[3.2155,0.3],[3.218,1.0],[3.2205,0.6],[3.223,0.3],[3.2255,0.9],[3.228,1.6],[3.2305,1.0],[3.233,0.5],[3.2355,0.9],[3.238,1.2],[3.2405,0.4],[3.243,-0.3],[3.2455,0.6],[3.248,1.5],[3.2505,1.8],[3.253,2.0],[3.2555,1.4],[3.258,1.0],[3.2605,1.9],[3.263,2.8],[3.265,4.0],[3.267,5.4],[3.269,4.0],[3.271,2.4],[3.273,0.8],[3.275,-0.8],[3.2775,-2.0],[3.280,-3.3],[3.282,-2.4],[3.284,-1.5],[3.286,-0.4],[3.288,0.6],[3.290,1.3],[3.292,2.1],[3.2945,1.5],[3.297,1.0],[3.2995,1.4],[3.302,1.8],[3.3045,1.0],[3.307,0.4],[3.3095,0.9],[3.312,1.5],[3.3145,0.6],[3.317,-0.3],[3.3195,0.5],[3.322,1.2],[3.3245,0.7],[3.327,0.2],[3.3295,-0.4],[3.332,-0.9],[3.3345,0.0],[3.337,0.7],[3.3395,0.1],[3.342,-0.4],[3.3445,0.4],[3.347,1.1],[3.3495,0.0],[3.352,-1.0],[3.3545,-0.2],[3.357,0.5],[3.3595,-0.1],[3.362,-0.6],[3.3645,0.4],[3.367,1.3],[3.3695,0.5],[3.372,-0.2],[3.3745,0.3],[3.377,0.8],[3.3795,-0.2],[3.382,-1.2],[3.3845,-0.4],[3.387,0.4],[3.3895,-0.1],[3.392,-0.7],[3.3945,0.2],[3.397,1.0],[3.3995,0.2],[3.402,-0.5],[3.4045,-0.1],[3.407,0.3],[3.4095,-0.4],[3.412,-1.1],[3.4145,-0.2],[3.417,0.6],[3.4195,-0.1],[3.422,-0.8],[3.4245,-1.1],[3.427,-1.6],[3.4295,-2.2],[3.432,-3.0],[3.434,-2.0],[3.436,-1.0],[3.4385,-0.8],[3.441,-0.5],[3.443,0.4],[3.445,1.2],[3.448,2.4],[3.451,3.8],[3.453,2.2],[3.455,1.0],[3.457,1.7],[3.459,2.2],[3.461,1.4],[3.463,0.8],[3.465,1.2],[3.467,1.6],[3.4695,1.0],[3.472,0.4],[3.4745,0.9],[3.477,1.3],[3.4795,0.5],[3.482,-0.2],[3.4845,0.4],[3.487,1.1],[3.4895,0.6],[3.492,0.3],[3.4945,-0.3],[3.497,-0.8],[3.4995,0.1],[3.502,0.9],[3.5045,0.4],[3.507,0.1],[3.5095,0.7],[3.512,1.2],[3.5145,0.3],[3.517,-0.6],[3.5195,0.1],[3.522,0.7],[3.5245,0.2],[3.527,-0.3],[3.5295,0.6],[3.532,1.4],[3.5345,0.7],[3.537,0.2],[3.5395,-0.5],[3.542,-1.0],[3.5445,-0.1],[3.547,0.8],[3.5495,0.1],[3.552,-0.5],[3.5545,0.3],[3.557,1.1],[3.5595,0.6],[3.562,0.3],[3.5645,-0.3],[3.567,-0.8],[3.5695,0.1],[3.572,0.9],[3.5745,0.4],[3.577,-0.1],[3.5795,0.6],[3.582,1.2],[3.5845,0.7],[3.587,0.4],[3.5895,-0.2],[3.592,-0.7],[3.5945,0.2],[3.597,1.0],[3.5995,-0.1],[3.602,-1.4],[3.6035,-2.6],[3.605,-4.0],[3.607,-1.8],[3.609,-0.2],[3.611,0.4],[3.613,0.8]];

// ---- build chart ----
const BLACK = '#000';
const SANS = '"Liberation Sans", Arial, Helvetica, sans-serif';
const chart = echarts.init(document.getElementById('chart'), null, {renderer: 'canvas'});

function xAxisDef(grid, pos, ticks, len, labels) {
  return {
    type: 'value', gridIndex: grid, position: pos, min: dRange[0], max: dRange[1],
    axisLine: {show: true, onZero: false, lineStyle: {color: BLACK, width: 2}},
    axisTick: {show: true, inside: true, length: len, customValues: ticks, lineStyle: {color: BLACK, width: 2}},
    axisLabel: labels ? {show: true, customValues: labels, color: BLACK, fontFamily: SANS, fontSize: 30, margin: 15}
                      : {show: false},
    splitLine: {show: false}
  };
}
function yAxisDef(grid, pos, range, ticks, len, labelOpt) {
  return {
    type: 'value', gridIndex: grid, position: pos, min: range[0], max: range[1],
    axisLine: {show: true, onZero: false, lineStyle: {color: BLACK, width: 2}},
    axisTick: {show: true, inside: true, length: len, customValues: ticks, lineStyle: {color: BLACK, width: 2}},
    axisLabel: labelOpt || {show: false},
    splitLine: {show: false}
  };
}

const option = {
  animation: false,
  backgroundColor: '#fff',
  grid: [
    {left: 212, top: 16, width: 999, height: 499},
    {left: 212, top: 673.5, width: 999, height: 74}
  ],
  xAxis: [
    xAxisDef(0, 'bottom', majorTicks, 14, majorTicks),
    xAxisDef(0, 'bottom', minorTicks, 7, null),
    xAxisDef(0, 'top', majorTicks, 14, null),
    xAxisDef(0, 'top', minorTicks, 7, null),
    xAxisDef(1, 'bottom', majorTicks, 9, null),
    xAxisDef(1, 'top', majorTicks, 9, null)
  ],
  yAxis: [
    yAxisDef(0, 'left', countsRange, countTicks, 15,
      {show: true, customValues: countTicks, color: BLACK, fontFamily: SANS, fontSize: 30, margin: 21}),
    yAxisDef(0, 'right', countsRange, countTicks, 15, null),
    yAxisDef(1, 'left', diffRange, diffTicks, 9,
      {show: true, customValues: diffLabels, color: BLACK, fontFamily: SANS, fontWeight: 'bold', fontSize: 16, margin: 10,
       formatter: v => String(v).replace('-', '\u2212')}),
    yAxisDef(1, 'right', diffRange, diffTicks, 9, null)
  ],
  series: [
    {
      name: 'reflections', type: 'custom', xAxisIndex: 0, yAxisIndex: 0,
      data: reflections.map(d => [d]),
      renderItem: function (params, api) {
        const d = api.value(0);
        const p0 = api.coord([d, reflectionSpan[0]]);
        const p1 = api.coord([d, reflectionSpan[1]]);
        return {type: 'line', shape: {x1: p0[0], y1: p0[1], x2: p1[0], y2: p1[1]},
                style: {stroke: BLACK, lineWidth: 1.5}};
      },
      encode: {x: 0}, silent: true, z: 3
    },
    {
      name: 'observed', type: 'scatter', xAxisIndex: 0, yAxisIndex: 0,
      data: observed, symbol: 'circle', symbolSize: 5.5, large: false,
      itemStyle: {color: 'rgba(255,255,255,0)', borderColor: BLACK, borderWidth: 1.3},
      silent: true, z: 2
    },
    {
      name: 'calculated', type: 'line', xAxisIndex: 0, yAxisIndex: 0,
      data: calculated, showSymbol: false, symbol: 'none', smooth: false,
      lineStyle: {color: BLACK, width: 1.6}, silent: true, z: 4
    },
    {
      name: 'difference', type: 'line', xAxisIndex: 4, yAxisIndex: 2,
      data: difference, showSymbol: false, symbol: 'none', sampling: 'none',
      lineStyle: {color: BLACK, width: 1.6}, silent: true, z: 4,
      markLine: {
        silent: true, symbol: 'none', label: {show: false},
        lineStyle: {color: BLACK, width: 1.2, type: [1.5, 4]},
        data: diffGuides.map(v => ({yAxis: v}))
      }
    }
  ],
  graphic: [
    {type: 'text', left: 17, top: 9,
     style: {text: '(b)', font: 'bold 28px "Liberation Serif", "Times New Roman", serif', fill: BLACK}},
    {type: 'text', x: 115, y: 272, rotation: Math.PI / 2,
     style: {text: 'Normalized Neutron Counts', font: '38px ' + SANS, fill: BLACK, align: 'center', verticalAlign: 'middle'}},
    {type: 'text', x: 548, y: 611,
     style: {text: 'd', font: 'italic bold 34px "Liberation Serif", "Times New Roman", serif', fill: BLACK, align: 'left', verticalAlign: 'middle'}},
    {type: 'text', x: 582, y: 611,
     style: {text: 'spacing', font: '34px ' + SANS, fill: BLACK, align: 'left', verticalAlign: 'middle'}},
    {type: 'text', x: 746, y: 611,
     style: {text: '(Å)', font: '31px "Liberation Mono", "Courier New", monospace', fill: BLACK, align: 'left', verticalAlign: 'middle'}}
  ]
};
chart.setOption(option);
</script>
</body>
</html>
